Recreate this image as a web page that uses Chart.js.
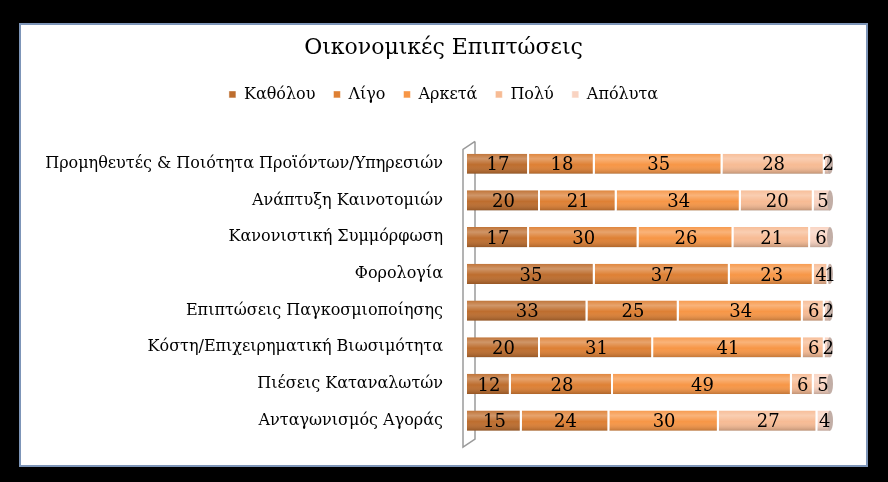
<!DOCTYPE html>
<html lang="el">
<head>
<meta charset="UTF-8">
<title>Οικονομικές Επιπτώσεις</title>
<script src="https://cdn.jsdelivr.net/npm/chart.js"></script>
<style>
  html, body { margin: 0; padding: 0; background: #000; }
  body { width: 888px; height: 482px; position: relative; overflow: hidden; }
  #box {
    position: absolute; left: 19px; top: 23px; width: 849px; height: 444px;
    box-sizing: border-box; border: 2px solid #7d95b8; background: #fff;
  }
  #chart { display: block; }
</style>
</head>
<body>
<div id="box"><canvas id="chart" width="845" height="440"></canvas></div>
<script>
// categories (top to bottom)
const categories = [
  'Προμηθευτές & Ποιότητα Προϊόντων/Υπηρεσιών',
  'Ανάπτυξη Καινοτομιών',
  'Κανονιστική Συμμόρφωση',
  'Φορολογία',
  'Επιπτώσεις Παγκοσμιοποίησης',
  'Κόστη/Επιχειρηματική Βιωσιμότητα',
  'Πιέσεις Καταναλωτών',
  'Ανταγωνισμός Αγοράς'
];

const seriesNames = ['Καθόλου', 'Λίγο', 'Αρκετά', 'Πολύ', 'Απόλυτα'];

// values in % per series
const katholou = [17, 20, 17, 35, 33, 20, 12, 15];
const ligo     = [18, 21, 30, 37, 25, 31, 28, 24];
const arketa   = [35, 34, 26, 23, 34, 41, 49, 30];
const poly     = [28, 20, 21,  4,  6,  6,  6, 27];
const apolyta  = [ 2,  5,  6,  1,  2,  2,  5,  4];

const seriesColors = ['#bd6d2e', '#de8034', '#f79646', '#f7bb94', '#f9d3c1'];

const seriesValues = [katholou, ligo, arketa, poly, apolyta];

const FONT = '"DejaVu Serif", serif';

// extra space under the legend
const legendGap = {
  id: 'legendGap',
  beforeInit(chart) {
    const fit = chart.legend.fit;
    chart.legend.fit = function () {
      fit.bind(chart.legend)();
      this.height += 33;
    };
  }
};

// cylinder-ish shading over each bar segment
const shadePlugin = {
  id: 'shade',
  afterDatasetsDraw(chart) {
    const ctx = chart.ctx;
    chart.data.datasets.forEach((ds, i) => {
      const meta = chart.getDatasetMeta(i);
      meta.data.forEach(bar => {
        const top = bar.y - bar.height / 2;
        const left = Math.min(bar.x, bar.base);
        const w = Math.abs(bar.x - bar.base);
        const g = ctx.createLinearGradient(0, top, 0, top + bar.height);
        g.addColorStop(0, 'rgba(255,255,255,0.05)');
        g.addColorStop(0.25, 'rgba(255,255,255,0.28)');
        g.addColorStop(0.55, 'rgba(255,255,255,0)');
        g.addColorStop(1, 'rgba(0,0,0,0.22)');
        ctx.save();
        ctx.fillStyle = g;
        ctx.fillRect(left, top, w - 2, bar.height);
        ctx.restore();
      });
    });
    // end caps on the last segment
    const last = chart.getDatasetMeta(chart.data.datasets.length - 1);
    last.data.forEach(bar => {
      ctx.save();
      ctx.beginPath();
      ctx.ellipse(bar.x - 2, bar.y, 3, bar.height / 2, 0, 0, Math.PI * 2);
      ctx.fillStyle = '#c2aea6';
      ctx.fill();
      ctx.restore();
    });
  }
};

// value labels in the middle of each segment
const labelPlugin = {
  id: 'valueLabels',
  afterDatasetsDraw(chart) {
    const ctx = chart.ctx;
    ctx.save();
    ctx.font = '18px ' + FONT;
    ctx.fillStyle = '#000';
    ctx.textAlign = 'center';
    ctx.textBaseline = 'middle';
    chart.data.datasets.forEach((ds, i) => {
      chart.getDatasetMeta(i).data.forEach((bar, j) => {
        const x = (bar.x + bar.base) / 2;
        ctx.fillText(String(ds.data[j]), x, bar.y + 2);
      });
    });
    ctx.restore();
  }
};

// 3D-style wall edge on the category axis
const wallPlugin = {
  id: 'wall',
  beforeDatasetsDraw(chart) {
    const ctx = chart.ctx;
    const a = chart.chartArea;
    const x0 = a.left - 4, x1 = a.left + 8;
    ctx.save();
    ctx.strokeStyle = '#9a9a9a';
    ctx.lineWidth = 1.5;
    ctx.beginPath();
    ctx.moveTo(x1, a.top - 4);
    ctx.lineTo(x0, a.top + 4);
    ctx.lineTo(x0, a.bottom + 8);
    ctx.lineTo(x1, a.bottom);
    ctx.lineTo(x1, a.top - 4);
    ctx.stroke();
    ctx.restore();
  }
};

new Chart(document.getElementById('chart'), {
  type: 'bar',
  data: {
    labels: categories,
    datasets: seriesNames.map((name, i) => ({
      label: name,
      data: seriesValues[i],
      backgroundColor: seriesColors[i],
      borderColor: '#ffffff',
      borderWidth: { top: 0, bottom: 0, left: 0, right: 2 },
      borderSkipped: false,
      categoryPercentage: 0.55,
      barPercentage: 1
    }))
  },
  options: {
    indexAxis: 'y',
    responsive: false,
    animation: false,
    layout: { padding: { top: 10, right: 0, bottom: 26, left: 0 } },
    plugins: {
      title: {
        display: true,
        text: 'Οικονομικές Επιπτώσεις',
        color: '#000',
        font: { family: FONT, size: 22, weight: 'normal' },
        padding: { top: 0, bottom: 7 }
      },
      legend: {
        position: 'top',
        labels: {
          color: '#000',
          font: { family: FONT, size: 16 },
          boxWidth: 7,
          boxHeight: 7,
          padding: 18
        }
      },
      tooltip: { enabled: false }
    },
    scales: {
      x: {
        stacked: true,
        min: 0,
        max: 100,
        display: false
      },
      y: {
        stacked: true,
        grid: { display: false },
        border: { display: false },
        ticks: {
          color: '#000',
          padding: 16,
          font: { family: FONT, size: 16 }
        },
        afterFit(scale) { scale.width = 446; }
      },
      // empty axis that only reserves the right margin
      yRight: {
        type: 'category',
        position: 'right',
        grid: { display: false },
        border: { display: false },
        ticks: { display: false },
        afterFit(scale) { scale.width = 34; }
      }
    }
  },
  plugins: [legendGap, wallPlugin, shadePlugin, labelPlugin]
});
</script>
</body>
</html>
